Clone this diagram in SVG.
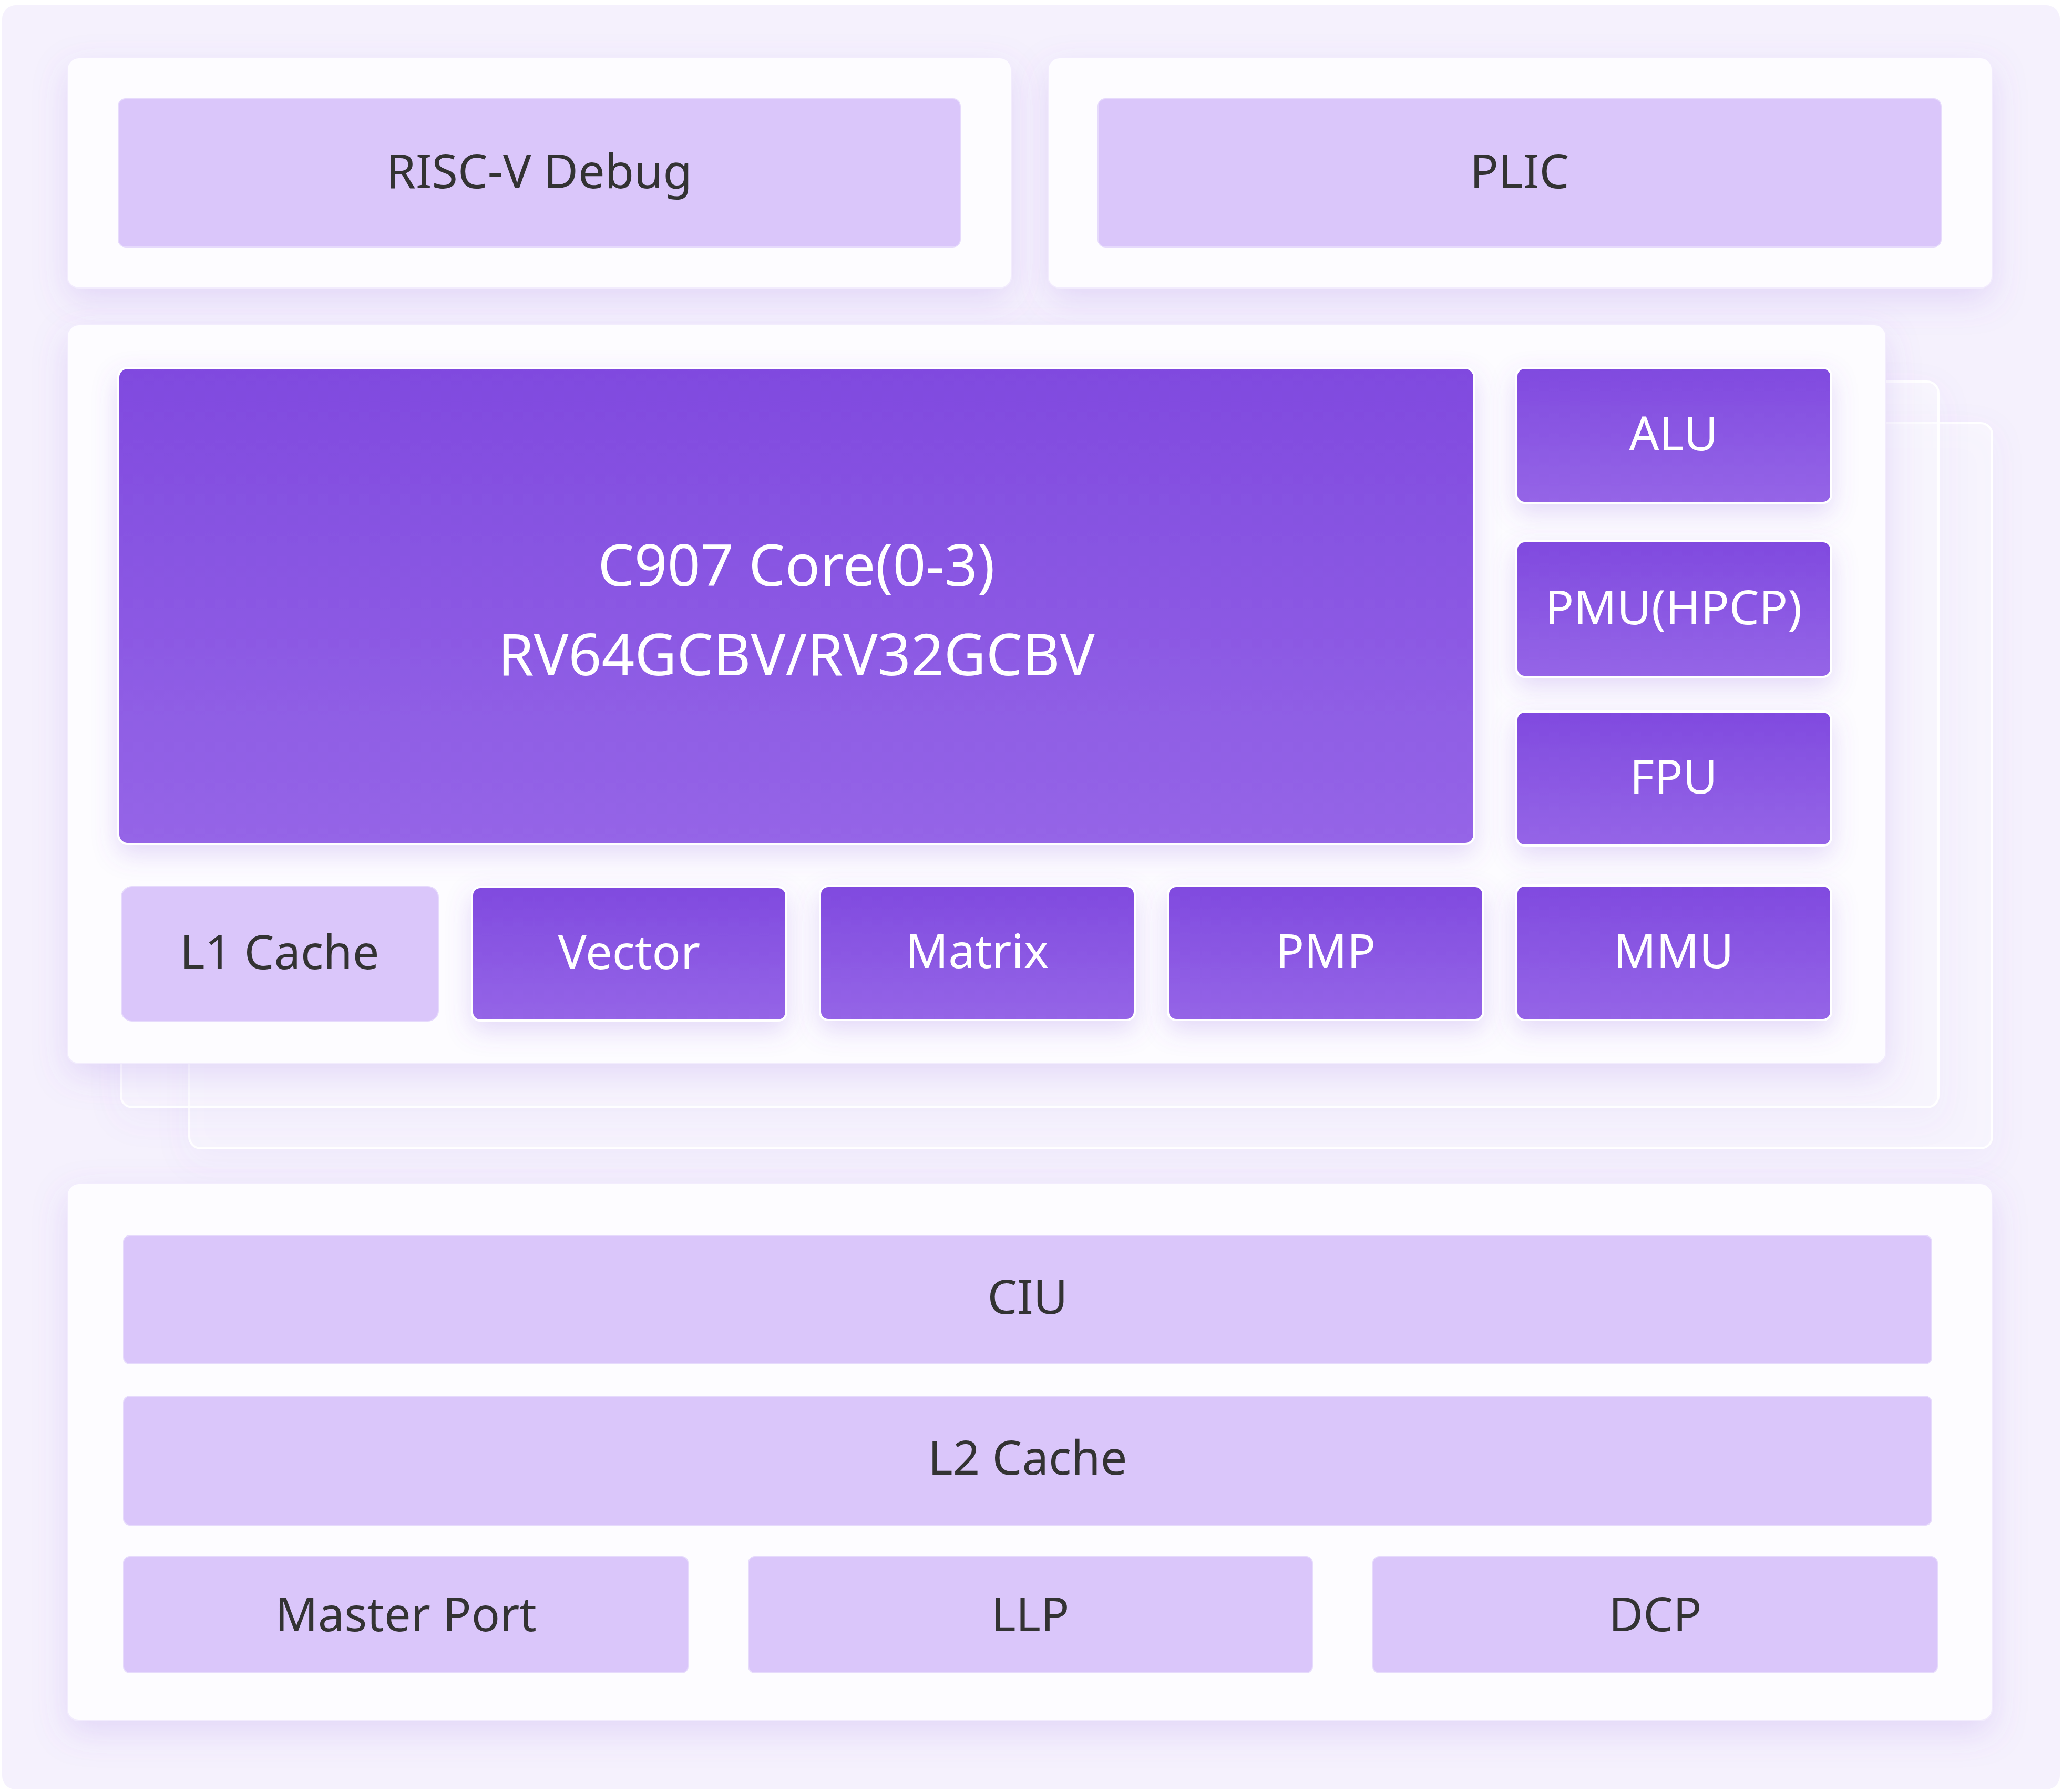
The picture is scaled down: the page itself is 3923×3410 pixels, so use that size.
<svg xmlns="http://www.w3.org/2000/svg" width="3923" height="3410" viewBox="0 0 3923 3410">
<defs>
<linearGradient id="pg" x1="0" y1="0" x2="0" y2="1">
<stop offset="0" stop-color="#804ADF"/>
<stop offset="1" stop-color="#9565E7"/>
</linearGradient>
<filter id="psh" x="-20%" y="-20%" width="140%" height="150%">
<feDropShadow dx="0" dy="22" stdDeviation="32" flood-color="#8b5fe0" flood-opacity="0.18"/>
</filter>
<filter id="bsh" x="-20%" y="-30%" width="140%" height="170%">
<feDropShadow dx="0" dy="18" stdDeviation="24" flood-color="#8b5fe0" flood-opacity="0.22"/>
</filter>
<filter id="gsh" x="-10%" y="-10%" width="120%" height="130%">
<feDropShadow dx="0" dy="20" stdDeviation="30" flood-color="#8b5fe0" flood-opacity="0.14"/>
</filter>
</defs>
<style>
.bg{fill:#F5F1FD}
.panel{fill:#FDFCFF;stroke:#F2ECFD;stroke-width:2}
.ghost{fill:#FFFFFF;fill-opacity:0.35;stroke:#FFFFFF;stroke-width:4}
.lt{fill:#DAC6FA;stroke:#E6DAFC;stroke-width:2}
.dk{fill:url(#pg);stroke:#FFFFFF;stroke-width:4}
text{font-family:"Noto Sans","Open Sans","DejaVu Sans",sans-serif;text-anchor:middle;font-size:90px}
.tl{fill:#333333}
.td{fill:#FFFFFF}
.big{font-size:110px}
</style>
<rect class="bg" x="4" y="10" width="3915" height="3395" rx="26"/>
<g id="connectors"></g>

<g id="panel-debug" filter="url(#psh)">
<rect class="panel" x="128" y="110" width="1796" height="438" rx="22"/>
</g>
<g id="risc-v-debug">
<rect class="lt" x="225" y="188" width="1602" height="282" rx="14"/>
<text class="tl" x="1026" y="358">RISC-V Debug</text>
</g>

<g id="panel-plic" filter="url(#psh)">
<rect class="panel" x="1994" y="110" width="1796" height="438" rx="22"/>
</g>
<g id="plic">
<rect class="lt" x="2089" y="188" width="1604" height="282" rx="14"/>
<text class="tl" x="2891" y="358">PLIC</text>
</g>

<g id="ghost-core-2" filter="url(#gsh)">
<rect class="ghost" x="360" y="805" width="3430" height="1380" rx="22"/>
</g>
<g id="ghost-core-1" filter="url(#gsh)">
<rect class="ghost" x="230" y="726" width="3458" height="1381" rx="22"/>
</g>
<g id="panel-core" filter="url(#psh)">
<rect class="panel" x="128" y="618" width="3460" height="1406" rx="22"/>
</g>

<g id="c907" filter="url(#bsh)">
<rect class="dk" x="225" y="700" width="2580" height="906" rx="18"/>
<text class="td big" x="1515" y="1115">C907 Core(0-3)</text>
<text class="td big" x="1515" y="1285">RV64GCBV/RV32GCBV</text>
</g>
<g id="alu" filter="url(#bsh)">
<rect class="dk" x="2885" y="700" width="599" height="257" rx="16"/>
<text class="td" x="3184" y="857">ALU</text>
</g>
<g id="pmu" filter="url(#bsh)">
<rect class="dk" x="2885" y="1030" width="599" height="258" rx="16"/>
<text class="td" x="3184" y="1188">PMU(HPCP)</text>
</g>
<g id="fpu" filter="url(#bsh)">
<rect class="dk" x="2885" y="1354" width="599" height="255" rx="16"/>
<text class="td" x="3184" y="1510">FPU</text>
</g>

<g id="l1-cache">
<rect class="lt" x="231" y="1687" width="603" height="256" rx="20"/>
<text class="tl" x="532" y="1844">L1 Cache</text>
</g>
<g id="vector" filter="url(#bsh)">
<rect class="dk" x="898" y="1688" width="598" height="254" rx="16"/>
<text class="td" x="1197" y="1844">Vector</text>
</g>
<g id="matrix" filter="url(#bsh)">
<rect class="dk" x="1560" y="1686" width="599" height="255" rx="16"/>
<text class="td" x="1859" y="1842">Matrix</text>
</g>
<g id="pmp" filter="url(#bsh)">
<rect class="dk" x="2222" y="1686" width="600" height="255" rx="16"/>
<text class="td" x="2522" y="1842">PMP</text>
</g>
<g id="mmu" filter="url(#bsh)">
<rect class="dk" x="2885" y="1685" width="599" height="256" rx="16"/>
<text class="td" x="3184" y="1842">MMU</text>
</g>

<g id="panel-bottom" filter="url(#psh)">
<rect class="panel" x="128" y="2252" width="3662" height="1022" rx="22"/>
</g>
<g id="ciu">
<rect class="lt" x="235" y="2351" width="3440" height="244" rx="12"/>
<text class="tl" x="1955" y="2500">CIU</text>
</g>
<g id="l2-cache">
<rect class="lt" x="235" y="2657" width="3440" height="245" rx="12"/>
<text class="tl" x="1955" y="2806">L2 Cache</text>
</g>
<g id="master-port">
<rect class="lt" x="235" y="2962" width="1074" height="221" rx="12"/>
<text class="tl" x="772" y="3104">Master Port</text>
</g>
<g id="llp">
<rect class="lt" x="1424" y="2962" width="1073" height="221" rx="12"/>
<text class="tl" x="1960" y="3104">LLP</text>
</g>
<g id="dcp">
<rect class="lt" x="2612" y="2962" width="1074" height="221" rx="12"/>
<text class="tl" x="3149" y="3104">DCP</text>
</g>
</svg>
